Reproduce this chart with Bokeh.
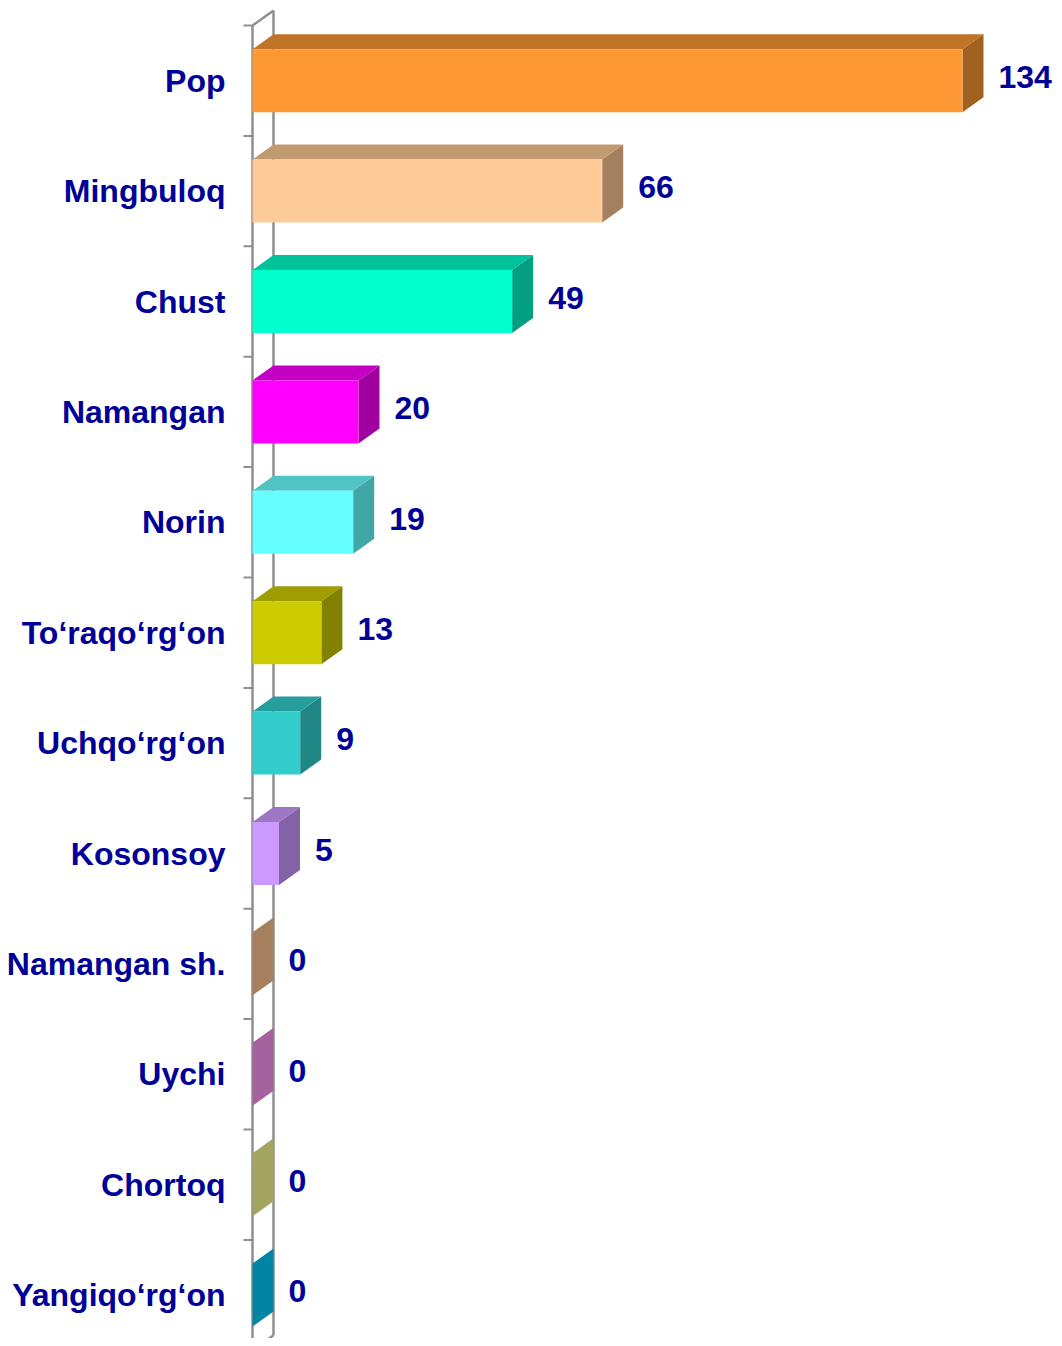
from bokeh.plotting import figure
from bokeh.models import Range1d
from bokeh.core.properties import value
from bokeh.embed import file_html
from bokeh.resources import INLINE

# ---- data ----
categories = ["Pop", "Mingbuloq", "Chust", "Namangan", "Norin", "To‘raqo‘rg‘on",
              "Uchqo‘rg‘on", "Kosonsoy", "Namangan sh.", "Uychi", "Chortoq", "Yangiqo‘rg‘on"]
values = [134, 66, 49, 20, 19, 13, 9, 5, 0, 0, 0, 0]
value_labels = [str(v) for v in values]

# ---- style ----
front_colors = ["#FF9933", "#FFCC99", "#00FFCC", "#FF00FF", "#66FFFF", "#CCCC00",
                "#33CCCC", "#CC99FF", "#CC9F77", "#CC7AC6", "#CCCC7A", "#00A6CC"]
top_colors = ["#C07428", "#C19A70", "#00C39C", "#C400C4", "#50C4C4", "#9E9E00",
              "#279E9E", "#9E77C4", "#BB9370", "#B86EB2", "#B8B86E", "#0096B8"]
side_colors = ["#A0621F", "#A58060", "#00A080", "#A000A0", "#40A6A6", "#828200",
               "#208585", "#8263A5", "#A6805F", "#A5629F", "#A5A562", "#0085A3"]
TEXT_COLOR = "#000099"
WALL_COLOR = "#8F8F8F"
FONT = "Liberation Sans"

W, H = 1054, 1338
X0_PX = 252.0            # frame x of value 0
XS = 710.0 / 134.0       # px per unit
Y0_PX = 25.0             # frame y of first band edge
BAND = 110.4             # px per category
DX = 21.0 / XS           # depth offset (x)
DY = -15.0 / BAND        # depth offset (y, upward)
HALF = 31.5 / BAND       # half height of front face
n = len(categories)

p = figure(width=W, height=H, output_backend="svg", toolbar_location=None,
           min_border=0, x_axis_type=None, y_axis_type=None,
           x_range=Range1d(-X0_PX / XS, (W - X0_PX) / XS),
           y_range=Range1d((H - Y0_PX) / BAND, -Y0_PX / BAND))
p.outline_line_color = None
p.grid.visible = False
p.background_fill_color = "white"
p.border_fill_color = "white"

# ---- wall ----
p.line([0, 0], [0, n], line_color=WALL_COLOR, line_width=2.5)
p.line([DX, DX], [DY, n + DY], line_color=WALL_COLOR, line_width=2.5)
p.line([0, DX], [0, DY], line_color=WALL_COLOR, line_width=2.5)
p.line([0, DX], [n, n + DY], line_color=WALL_COLOR, line_width=2.5)
TK = 9.0 / XS
p.segment(x0=[-TK] * (n + 1), y0=list(range(n + 1)), x1=[0] * (n + 1), y1=list(range(n + 1)),
          line_color=WALL_COLOR, line_width=2)

# ---- 3D bars ----
top_xs, top_ys, side_xs, side_ys = [], [], [], []
for i, v in enumerate(values):
    c = i + 0.5
    t, b = c - HALF, c + HALF
    top_xs.append([0, v, v + DX, DX])
    top_ys.append([t, t, t + DY, t + DY])
    side_xs.append([v, v + DX, v + DX, v])
    side_ys.append([t, t + DY, b + DY, b])

p.patches(side_xs, side_ys, fill_color=side_colors, line_color=None)
p.patches(top_xs, top_ys, fill_color=top_colors, line_color=None)
nz = [i for i, v in enumerate(values) if v > 0]
p.quad(left=[0] * len(nz), right=[values[i] for i in nz],
       top=[i + 0.5 - HALF for i in nz], bottom=[i + 0.5 + HALF for i in nz],
       fill_color=[front_colors[i] for i in nz], line_color=None)

# ---- labels ----
p.text(x=[-27.0 / XS] * n, y=[i + 0.5 for i in range(n)], text=categories,
       text_align="right", text_baseline="middle", text_color=TEXT_COLOR,
       text_font=value(FONT), text_font_style="bold", text_font_size="32px")
p.text(x=[v + DX + 15.0 / XS for v in values], y=[i + 0.5 + DY / 4 for i in range(n)],
       text=value_labels, text_align="left", text_baseline="middle", text_color=TEXT_COLOR,
       text_font=value(FONT), text_font_style="bold", text_font_size="32px")

open("out.html", "w").write(file_html(p, INLINE))
